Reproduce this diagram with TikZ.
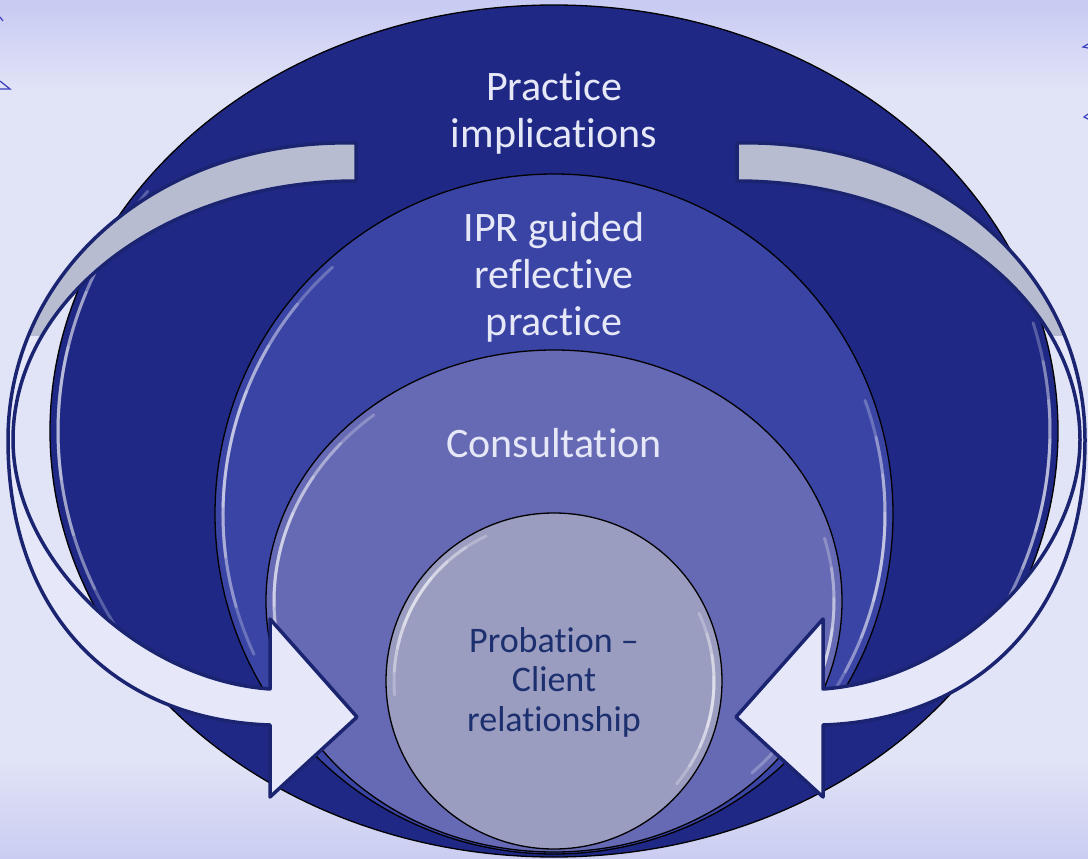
\documentclass[tikz,border=0pt]{standalone}
\usepackage{fontspec}
\setmainfont{Carlito}[Ligatures=NoCommon]
\definecolor{bgbase}{HTML}{E1E3F7}
\definecolor{bgtop}{HTML}{C7CAF2}
\definecolor{bgbot}{HTML}{CACDF1}
\definecolor{cOuter}{HTML}{1F2985}
\definecolor{cIpr}{HTML}{3944A5}
\definecolor{cCons}{HTML}{6669B3}
\definecolor{cCore}{HTML}{9A9CC0}
\definecolor{lighttext}{HTML}{E6E8F8}
\definecolor{darktext}{HTML}{1C2F6E}
\definecolor{arrowline}{HTML}{1B2470}
\definecolor{ribbonlight}{HTML}{E6E8FA}
\definecolor{ribbongray}{HTML}{B8BCD0}
\definecolor{edgeblue}{HTML}{3A40C0}

% one curved ribbon arrow (left-hand one); the right one is its mirror image
\newcommand\arrowribbon{(356,143) .. controls (160,138) and (8,270) .. (8,440)
  .. controls (8,620) and (120,720) .. (270,725) -- (270,797) -- (357,717)
  -- (270,619) -- (270,689) .. controls (140,680) and (13,560) .. (13,440)
  .. controls (13,297) and (167,181) .. (356,181) -- cycle}

% soft highlight along the inside of an ellipse: cx, cy, rx, ry, from, to
\newcommand\glossarc[6]{%
  \foreach \f in {0,0.12,0.24,0.36}{%
    \pgfmathsetmacro\da{(#6-#5)*\f}%
    \draw[gloss] (#1,#2) ++({#5+\da}:{#3} and {#4})
      arc[start angle={#5+\da}, end angle={#6-\da}, x radius=#3, y radius=#4];
  }}

\newcommand\drawribbon{%
  \fill[ribbonlight] \arrowribbon;
  \begin{scope}
    \clip (-20,-20) rectangle (1110,335);
    \fill[ribbongray] \arrowribbon;
  \end{scope}
  \draw[ribbon] \arrowribbon;}

\begin{document}
\begin{tikzpicture}[x=1pt,y=-1pt,
  ring/.style={draw=black, line width=1.3pt},
  gloss/.style={white, line width=3pt, opacity=0.25, line cap=round},
  ribbon/.style={draw=arrowline, line width=3.5pt, line join=round},
  label/.style={align=center, inner sep=0pt, text=lighttext,
    font=\fontsize{42}{47}\selectfont},
  corelabel/.style={align=center, inner sep=0pt, text=darktext,
    font=\fontsize{36}{39.5}\selectfont},
  edgemark/.style={draw=edgeblue, line width=1.2pt}]

% background
\fill[bgbase] (0,0) rectangle (1088,859);
\fill[top color=bgtop, bottom color=bgbase] (0,0) rectangle (1088,90);
\fill[top color=bgbase, bottom color=bgbot] (0,760) rectangle (1088,859);
\useasboundingbox (0,0) rectangle (1088,859);
\draw[edgemark] (0,17) -- (3,21);
\draw[edgemark] (0,81) -- (10,89) -- (0,89);
\draw[edgemark] (1088,44) -- (1083,47) -- (1088,48);
\draw[edgemark] (1088,114) -- (1084,117) -- (1088,119);

% nested rings, outermost first
\path[ring, fill=cOuter] (554,431) ellipse [x radius=504, y radius=426];
\glossarc{554}{431}{496}{418}{150}{215}
\glossarc{554}{431}{496}{418}{-15}{30}

\path[ring, fill=cIpr] (554,514) ellipse [x radius=339, y radius=340];
\glossarc{554}{514}{331}{332}{155}{228}
\glossarc{554}{514}{331}{332}{-20}{35}

\path[ring, fill=cCons] (554,601) ellipse [x radius=288, y radius=251];
\glossarc{554}{601}{280}{243}{150}{230}
\glossarc{554}{601}{280}{243}{-15}{45}

\path[ring, fill=cCore] (554,681) ellipse [x radius=168, y radius=168];
\glossarc{554}{681}{160}{160}{175}{245}
\glossarc{554}{681}{160}{160}{-25}{40}

% labels (base anchor = baseline of the last line)
\node[label, anchor=base] (tOuter) at (554,147) {Practice\\implications};
\node[label, anchor=base] (tIpr) at (554,335) {IPR guided\\reflective\\practice};
\node[label, anchor=base] (tCons) at (554,457) {Consultation};
\node[corelabel, anchor=base] (tCore) at (554,731) {Probation --\\Client\\relationship};

% curved arrows pointing in to the centre
\begin{scope}
  \drawribbon
\end{scope}
\begin{scope}[shift={(1093,0)}, xscale=-1]
  \drawribbon
\end{scope}
\end{tikzpicture}
\end{document}
